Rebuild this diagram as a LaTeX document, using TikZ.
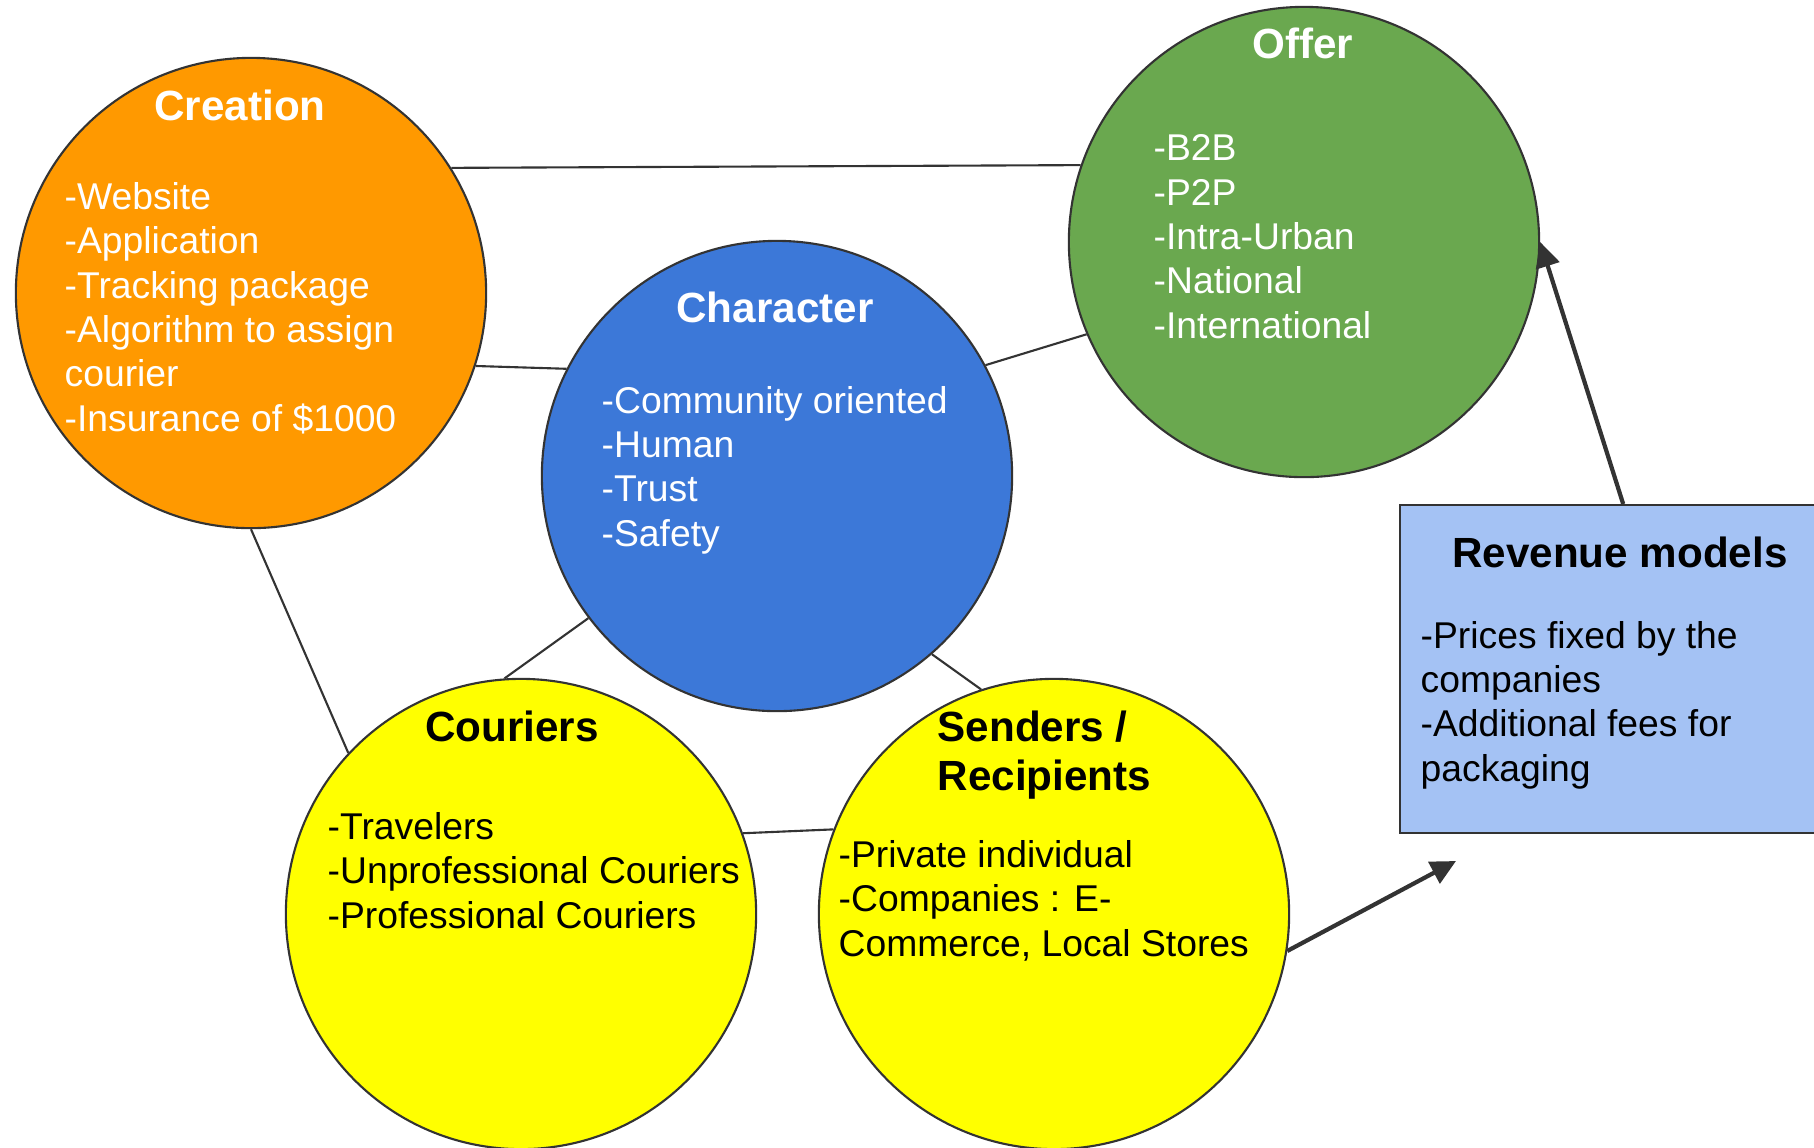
\documentclass[tikz,border=0pt]{standalone}
\usepackage{fontspec}
\setmainfont{Liberation Sans}
\usepackage{tikz}
\usetikzlibrary{calc,arrows.meta}

\definecolor{creorange}{HTML}{FF9900}
\definecolor{chablue}{HTML}{3C78D8}
\definecolor{offgreen}{HTML}{6AA84F}
\definecolor{pplyellow}{HTML}{FFFF00}
\definecolor{revblue}{HTML}{A4C2F4}
\definecolor{edgegray}{HTML}{333333}

\begin{document}
\begin{tikzpicture}[x=0.01cm,y=-0.01cm,
            bubble/.style={circle,draw=edgegray,line width=0.6pt,fill=#1,minimum size=4.7cm,inner sep=0pt},
            head/.style={font=\fontsize{12}{13.9}\selectfont\bfseries,text=#1,inner sep=0pt},
            body/.style={font=\fontsize{10.6}{12.6}\selectfont,align=left,text=#1,inner sep=0pt,anchor=base west},
            link/.style={draw=edgegray,line width=0.6pt},
            push/.style={draw=edgegray,line width=1.2pt,-{Triangle[length=0.25cm,width=0.24cm]}}]

        \useasboundingbox (0,0) rectangle (1814,1147);

        \node [bubble=creorange] at (251,293) (cre) {};
        \node [bubble=chablue] at (777,476) (cha) {};
        \node [bubble=offgreen] at (1304,242) (off) {};
        \node [bubble=pplyellow] at (521,914) (cou) {};
        \node [bubble=pplyellow] at (1054,914) (sen) {};
        \node [draw=edgegray, line width=0.6pt, fill=revblue, anchor=north west,
               minimum width=4.46cm, minimum height=3.28cm] at (1399,504) (rev) {};

        \node [head=white, anchor=base] at (240,120) (cretitle) {Creation};
        \node [body=white] at (64,431) (crebody) {-Website\\-Application\\-Tracking package\\-Algorithm to assign\\courier\\-Insurance of \$1000};
        \node [head=white, anchor=base] at (775,322) (chatitle) {Character};
        \node [body=white] at (601,546) (chabody) {-Community oriented\\-Human\\-Trust\\-Safety};
        \node [head=white, anchor=base] at (1303,58) (offtitle) {Offer};
        \node [body=white] at (1153,338) (offbody) {-B2B\\-P2P\\-Intra-Urban\\-National\\-International};
        \node [head=black, anchor=base] at (512,741) (coutitle) {Couriers};
        \node [body=black] at (327,928) (coubody) {-Travelers\\-Unprofessional Couriers\\-Professional Couriers};
        \node [head=black, anchor=base west, align=left] at (937,790) (sentitle) {Senders /\\Recipients};
        \node [body=black] at (838,956) (senbody) {-Private individual\\-Companies : E-\\Commerce, Local Stores};
        \node [head=black, anchor=base] at (1620,567) (revtitle) {Revenue models};
        \node [body=black] at (1420,781) (revbody) {-Prices fixed by the\\companies\\-Additional fees for\\packaging};

        \coordinate (revtip) at (1456,861);

        \draw [link] (cre.32.3) -- (off.161.5);
        \draw [link] (cre.-18) -- (cha.153);
        \draw [link] (cha.28) -- (off.-157);
        \draw [link] (cre.south) -- (cou.137);
        \draw [link] (cha.-143) -- (cou.94);
        \draw [link] (cha.-49) -- (sen.108);
        \draw [link] (cou.20.4) -- (sen.159.6);
        \draw [push] (sen.-9.4) -- (revtip);
        \draw [push] (rev.north) -- (off.east);

    \end{tikzpicture}
\end{document}
